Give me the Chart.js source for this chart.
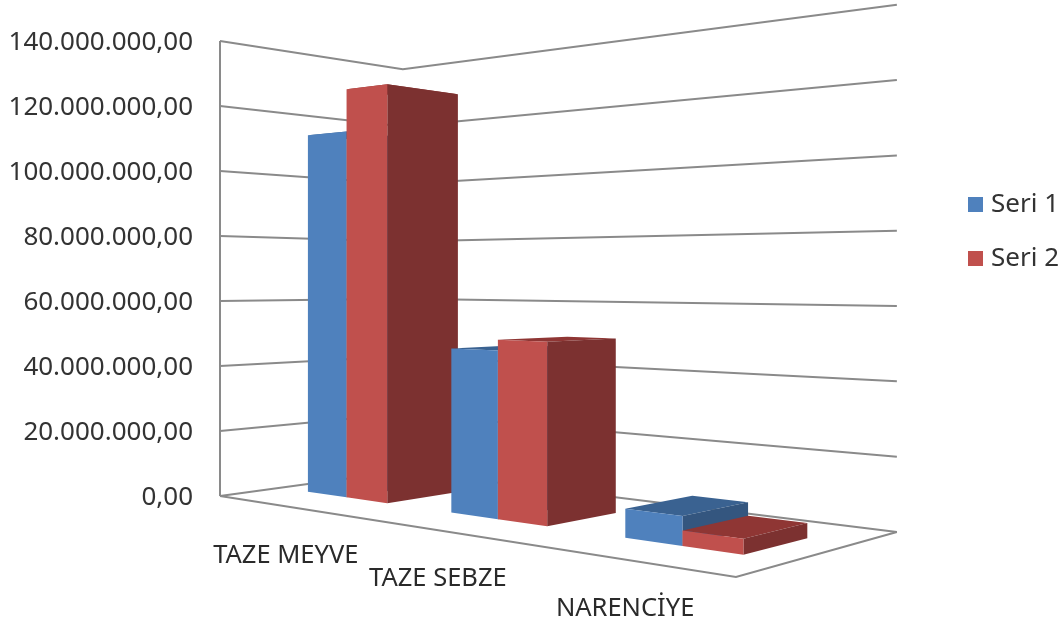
<!DOCTYPE html>
<html lang="tr">
<head>
<meta charset="UTF-8" />
<title>Seri 1 / Seri 2</title>
<script src="https://cdn.jsdelivr.net/npm/chart.js"></script>
<style>
  html, body { margin: 0; background: #fff; }
  canvas { display: block; }
</style>
</head>
<body>
<canvas id="chart" width="1061" height="623"></canvas>
<script>
const categories = ['TAZE MEYVE', 'TAZE SEBZE', 'NARENCİYE'];
const seri1 = [112000000, 47000000, 7500000];
const seri2 = [125000000, 50000000, 3900000];
const axisMax = 140000000;
const axisStep = 20000000;

const FONT = '"Noto Sans", sans-serif';
const GRID = '#8a8a8a';

// bar depth on the floor (0 = front edge, 1 = back wall)
const DEPTH_FRONT = 0.305;
const DEPTH_BACK = 0.695;

// perspective: u runs along the categories, v goes into the picture, t is value/axisMax
function project(chart, u, v, t) {
  const a = chart.chartArea;
  const w = 1 - 0.269 * u + 0.132 * v;
  const x = (318 * u + 236 * v + a.left) / w;
  const y = (-74.2 * u + 37.3 * v + a.bottom) / w;
  return [x, y - t * (a.bottom - a.top) / w];
}

function poly(ctx, pts, fill) {
  ctx.beginPath();
  pts.forEach((p, i) => i ? ctx.lineTo(p[0], p[1]) : ctx.moveTo(p[0], p[1]));
  ctx.closePath();
  ctx.fillStyle = fill;
  ctx.fill();
}

function line(ctx, pts) {
  ctx.beginPath();
  pts.forEach((p, i) => i ? ctx.lineTo(p[0], p[1]) : ctx.moveTo(p[0], p[1]));
  ctx.stroke();
}

const shade = {
  '#4f81bd': { top: '#3a6291', side: '#34567f' },
  '#c0504d': { top: '#8f3634', side: '#7c3130' }
};

const perspective = {
  id: 'perspective',
  afterLayout(chart) {
    // legend sits above the middle of the plot, close to the right edge
    chart.legend.left = 945;
    chart.legend.top -= 37;
    chart.legend.bottom -= 37;
  },
  beforeDatasetsDraw(chart) {
    const ctx = chart.ctx, y = chart.scales.y, x = chart.scales.x, a = chart.chartArea;
    ctx.save();
    ctx.strokeStyle = GRID;
    ctx.lineWidth = 2;
    ctx.lineJoin = 'miter';

    // walls
    y.ticks.forEach(tick => {
      const t = tick.value / axisMax;
      line(ctx, [project(chart, 0, 0, t), project(chart, 0, 1, t), project(chart, 1, 1, t)]);
    });
    line(ctx, [project(chart, 0, 0, 0), project(chart, 0, 0, 1)]);
    // floor
    line(ctx, [project(chart, 0, 0, 0), project(chart, 1, 0, 0), project(chart, 1, 1, 0)]);

    // bars, category by category so the nearer ones cover the side of the previous
    categories.forEach((name, i) => {
      [0, 1].forEach(d => {
        const bar = chart.getDatasetMeta(d).data[i];
        const colour = chart.data.datasets[d].backgroundColor;
        const u0 = (bar.x - bar.width / 2 - a.left) / a.width;
        const u1 = (bar.x + bar.width / 2 - a.left) / a.width;
        const t = (bar.base - bar.y) / (a.bottom - a.top);
        const f = DEPTH_FRONT, b = DEPTH_BACK;
        poly(ctx, [project(chart, u0, f, t), project(chart, u1, f, t), project(chart, u1, b, t), project(chart, u0, b, t)], shade[colour].top);
        poly(ctx, [project(chart, u1, f, 0), project(chart, u1, b, 0), project(chart, u1, b, t), project(chart, u1, f, t)], shade[colour].side);
        poly(ctx, [project(chart, u0, f, 0), project(chart, u1, f, 0), project(chart, u1, f, t), project(chart, u0, f, t)], colour);
      });
    });

    // category labels under the front edge of the floor
    ctx.fillStyle = '#2a2a2a';
    ctx.font = '25.5px ' + FONT;
    ctx.textAlign = 'center';
    ctx.textBaseline = 'middle';
    categories.forEach((name, i) => {
      const u = (x.getPixelForTick(i) - a.left) / a.width;
      const p = project(chart, u, 0, 0);
      ctx.fillText(name, p[0], p[1] + 49);
    });
    ctx.restore();
    return false;
  }
};

new Chart(document.getElementById('chart'), {
  type: 'bar',
  data: {
    labels: categories,
    datasets: [
      { label: 'Seri 1', data: seri1, backgroundColor: '#4f81bd' },
      { label: 'Seri 2', data: seri2, backgroundColor: '#c0504d' }
    ]
  },
  options: {
    responsive: false,
    animation: false,
    layout: { padding: { top: 41, bottom: 127 } },
    datasets: { bar: { categoryPercentage: 0.576, barPercentage: 1 } },
    scales: {
      x: { display: false },
      y: {
        min: 0,
        max: axisMax,
        afterFit(scale) { scale.width = 220; },
        grid: { display: false },
        border: { display: false },
        ticks: {
          stepSize: axisStep,
          padding: 19,
          labelOffset: 2,
          color: '#333333',
          font: { family: FONT, size: 26 },
          callback: v => v.toLocaleString('tr-TR', { minimumFractionDigits: 2, maximumFractionDigits: 2 })
        }
      }
    },
    plugins: {
      tooltip: { enabled: false },
      legend: {
        position: 'right',
        labels: {
          usePointStyle: true,
          pointStyle: 'rect',
          boxWidth: 5,
          boxHeight: 15,
          padding: 28,
          color: '#333333',
          font: { family: FONT, size: 26 }
        }
      }
    }
  },
  plugins: [perspective]
});
</script>
</body>
</html>
